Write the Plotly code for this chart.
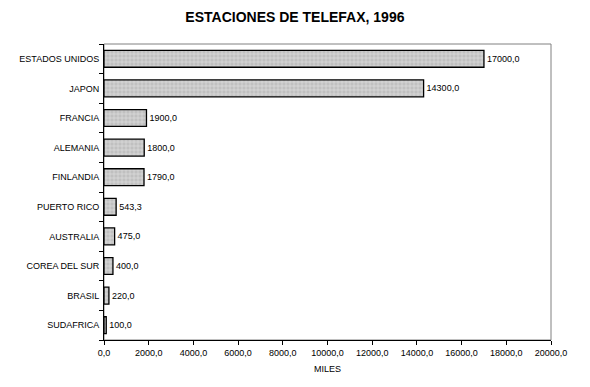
import plotly.graph_objects as go

countries = ["ESTADOS UNIDOS", "JAPON", "FRANCIA", "ALEMANIA", "FINLANDIA",
             "PUERTO RICO", "AUSTRALIA", "COREA DEL SUR", "BRASIL", "SUDAFRICA"]
values = [17000.0, 14300.0, 1900.0, 1800.0, 1790.0, 543.3, 475.0, 400.0, 220.0, 100.0]
x_ticks = [0, 2000, 4000, 6000, 8000, 10000, 12000, 14000, 16000, 18000, 20000]

font_family = "Liberation Sans Narrow, Arial Narrow, Liberation Sans, Arial, sans-serif"

fig = go.Figure(go.Bar(
    x=values[::-1], y=countries[::-1], orientation="h",
    marker=dict(color="#c8c8c8", line=dict(color="black", width=1.3),
                pattern=dict(shape="+", fgcolor="white", bgcolor="#c0c0c0",
                             size=4, solidity=0.3)),
    text=values[::-1], texttemplate="%{x:.1f}", textposition="outside",
    textfont=dict(size=9, color="black", family=font_family),
    cliponaxis=False,
))

fig.update_layout(
    width=582, height=379,
    margin=dict(l=96, r=39, t=36, b=47, autoexpand=False),
    paper_bgcolor="white", plot_bgcolor="white",
    separators=",.",
    bargap=0.43,
    showlegend=False,
    font=dict(family=font_family, size=9, color="black"),
    title=dict(text="<b>ESTACIONES DE TELEFAX, 1996</b>", x=0.493, xanchor="center",
               y=0.976, yanchor="middle",
               font=dict(size=14, family=font_family, color="black")),
    shapes=[dict(type="rect", xref="paper", yref="paper", x0=0, x1=1, y0=0, y1=1,
                 line=dict(color="#808080", width=1), layer="below")],
)
fig.update_xaxes(range=[0, 20000], tickvals=x_ticks, tickformat=".1f",
                 showgrid=False, zeroline=False, showline=True, linecolor="black",
                 linewidth=1, ticks="outside", ticklen=4, tickcolor="black",
                 tickfont=dict(size=9), automargin=False,
                 title=dict(text="MILES", font=dict(size=9), standoff=8))
fig.update_yaxes(showgrid=False, showline=True, linecolor="black", linewidth=1,
                 ticks="outside", ticklen=4, tickcolor="black", tickson="boundaries",
                 tickfont=dict(size=9), ticklabelstandoff=2, automargin=False)

fig.write_html("out.html")
